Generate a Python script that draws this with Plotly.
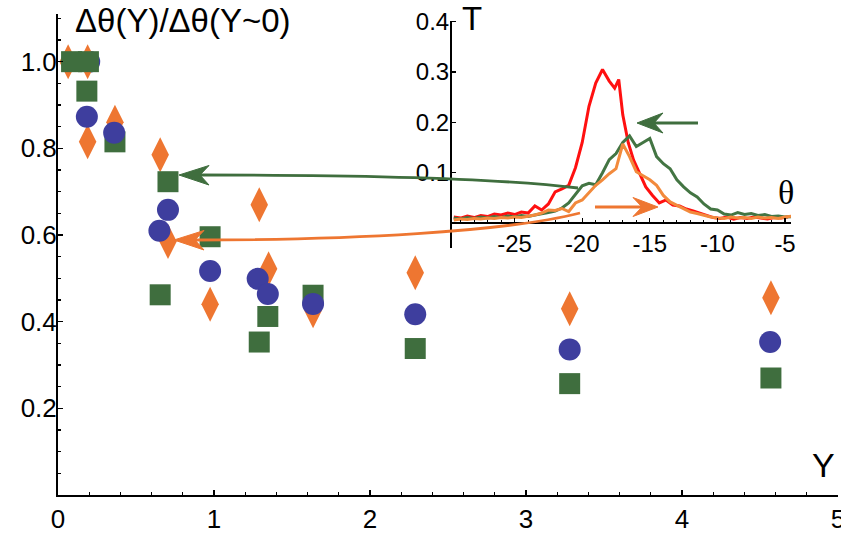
import plotly.graph_objects as go

# ---------------- main data ----------------
dia_x = [0.065, 0.19, 0.19, 0.365, 0.655, 0.705, 0.975, 1.29, 1.35, 1.635, 2.29, 3.28, 4.57]
dia_y = [1.0, 1.0, 0.815, 0.86, 0.785, 0.585, 0.44, 0.67, 0.522, 0.425, 0.513, 0.43, 0.455]

sq_x = [0.087, 0.195, 0.185, 0.365, 0.655, 0.705, 0.975, 1.29, 1.345, 1.635, 2.29, 3.28, 4.57]
sq_y = [1.0, 1.0, 0.932, 0.815, 0.462, 0.723, 0.596, 0.353, 0.412, 0.461, 0.338, 0.257, 0.27]

cir_x = [0.2, 0.185, 0.36, 0.705, 0.65, 0.975, 1.28, 1.345, 1.635, 2.29, 3.28, 4.565]
cir_y = [1.0, 0.873, 0.836, 0.658, 0.61, 0.517, 0.499, 0.464, 0.441, 0.417, 0.336, 0.353]

x_ticks = [0, 1, 2, 3, 4, 5]
y_ticks = [0.2, 0.4, 0.6, 0.8, 1.0]
y_ticklabels = ["0.2", "0.4", "0.6", "0.8", "1.0"]

# ---------------- inset data ----------------
red_theta = [-29.5, -29, -28.5, -28, -27.5, -27, -26.5, -26, -25.5, -25, -24.5, -24,
             -23.5, -23, -22.5, -22, -21.5, -21, -20.5, -20, -19.5, -19, -18.5, -18,
             -17.6, -17.3, -17.0, -16.6, -16.2, -15.8,
             -15.3, -14.8, -14.3, -13.8, -13.3, -12.8, -12.3, -11.8, -11.3, -10.8, -10.3,
             -9.8, -9.3, -8.8, -8.3, -7.8, -7.3, -6.8, -6.3, -5.8, -5.3, -4.8]
red_T = [0.012, 0.010, 0.014, 0.011, 0.015, 0.013, 0.018, 0.016, 0.020, 0.017, 0.022, 0.020,
         0.034, 0.026, 0.038, 0.062, 0.068, 0.075, 0.110, 0.160, 0.232, 0.278, 0.305, 0.282,
         0.268, 0.285, 0.215, 0.160, 0.125, 0.100,
         0.072, 0.055, 0.040, 0.046, 0.036, 0.034, 0.028, 0.024, 0.020, 0.015, 0.011,
         0.009, 0.012, 0.008, 0.011, 0.009, 0.012, 0.010, 0.008, 0.011, 0.010, 0.012]

gr_theta = [-29.5, -29, -28.5, -28, -27.5, -27, -26.5, -26, -25.5, -25, -24.5, -24,
            -23.5, -23, -22.5, -22, -21.5, -21, -20.5, -20, -19.5, -19, -18.5, -18,
            -17.5, -17, -16.5, -16, -15.5, -15, -14.5, -14, -13.5, -13, -12.5, -12,
            -11.5, -11, -10.5, -10, -9.5, -9, -8.5, -8, -7.5, -7, -6.5, -6, -5.5, -5, -4.5]
gr_T = [0.010, 0.008, 0.011, 0.009, 0.012, 0.010, 0.013, 0.011, 0.014, 0.012, 0.015, 0.013,
        0.016, 0.018, 0.021, 0.024, 0.030, 0.040, 0.058, 0.074, 0.079, 0.076, 0.100, 0.126,
        0.138, 0.160, 0.173, 0.152, 0.160, 0.168, 0.132, 0.118, 0.108, 0.086, 0.072, 0.060,
        0.052, 0.038, 0.028, 0.026, 0.018, 0.016, 0.021, 0.017, 0.019, 0.015, 0.017, 0.013,
        0.014, 0.012, 0.013]

or_theta = gr_theta
or_T = [0.006, 0.008, 0.007, 0.009, 0.008, 0.010, 0.009, 0.011, 0.010, 0.012, 0.011, 0.013,
        0.016, 0.020, 0.026, 0.025, 0.029, 0.023, 0.040, 0.046, 0.060, 0.075, 0.086, 0.098,
        0.108, 0.157, 0.132, 0.102, 0.094, 0.086, 0.075, 0.055, 0.042, 0.035, 0.028, 0.022,
        0.019, 0.015, 0.012, 0.010, 0.009, 0.012, 0.010, 0.011, 0.009, 0.012, 0.010, 0.011,
        0.009, 0.012, 0.014]

inset_xticks = [-25, -20, -15, -10, -5]
inset_yticks = [0.1, 0.2, 0.3, 0.4]

# ---------------- styling ----------------
ORANGE = "#EE7631"
BLUE = "#3E3E9E"
GREEN = "#3F6E3E"
RED = "#FF1010"
GREEN_L = "#437543"
ORANGE_L = "#F28A3C"
FONT = "Liberation Sans, Arial, sans-serif"

W, H = 841, 534
ML, MR, MT, MB = 58, 3, 14, 39
PW = W - ML - MR
PH = H - MT - MB


def px(x):
    return (x - ML) / PW


def py(y):
    return (H - MB - y) / PH


fig = go.Figure()

# main markers
fig.add_trace(go.Scatter(x=cir_x[:1], y=cir_y[:1], mode="markers", cliponaxis=False,
                         marker=dict(symbol="circle", size=22, color=BLUE), showlegend=False))
fig.add_trace(go.Scatter(x=dia_x, y=dia_y, mode="markers", cliponaxis=False,
                         marker=dict(symbol="diamond-tall", size=25, color=ORANGE), showlegend=False))
fig.add_trace(go.Scatter(x=sq_x, y=sq_y, mode="markers", cliponaxis=False,
                         marker=dict(symbol="square", size=21, color=GREEN), showlegend=False))
fig.add_trace(go.Scatter(x=cir_x[1:], y=cir_y[1:], mode="markers", cliponaxis=False,
                         marker=dict(symbol="circle", size=22, color=BLUE), showlegend=False))

# inset curves
fig.add_trace(go.Scatter(x=red_theta, y=red_T, mode="lines", xaxis="x2", yaxis="y2",
                         line=dict(color=RED, width=3), showlegend=False))
fig.add_trace(go.Scatter(x=gr_theta, y=gr_T, mode="lines", xaxis="x2", yaxis="y2",
                         line=dict(color=GREEN_L, width=3), showlegend=False))
fig.add_trace(go.Scatter(x=or_theta, y=or_T, mode="lines", xaxis="x2", yaxis="y2",
                         line=dict(color=ORANGE_L, width=3), showlegend=False))

# inset geometry (pixel positions)
ix0, ix1 = 452, 791
iy_top, iy_bot, iy_zero = 20.6, 248.3, 223

shapes = []


def path_pts(pts, close=False):
    s = "M " + " L ".join(f"{px(a):.5f},{py(b):.5f}" for a, b in pts)
    return s + (" Z" if close else "")


def curve(p0, c1, c2, p3):
    return (f"M {px(p0[0]):.5f},{py(p0[1]):.5f} C {px(c1[0]):.5f},{py(c1[1]):.5f} "
            f"{px(c2[0]):.5f},{py(c2[1]):.5f} {px(p3[0]):.5f},{py(p3[1]):.5f}")


# long green arrow
shapes.append(dict(type="path", xref="paper", yref="paper",
                   path=curve((578, 188), (505, 179), (380, 175), (199, 175)),
                   line=dict(color=GREEN, width=2.8)))
shapes.append(dict(type="path", xref="paper", yref="paper",
                   path=path_pts([(179, 175), (209, 165.5), (200, 175), (209, 185)], close=True),
                   fillcolor=GREEN, line=dict(color=GREEN, width=1)))
# long orange arrow
shapes.append(dict(type="path", xref="paper", yref="paper",
                   path=curve((580, 213), (505, 232), (350, 240), (194, 240)),
                   line=dict(color=ORANGE, width=2.8)))
shapes.append(dict(type="path", xref="paper", yref="paper",
                   path=path_pts([(174, 240), (204, 230.5), (195, 240), (204, 250)], close=True),
                   fillcolor=ORANGE, line=dict(color=ORANGE, width=1)))
# short inset arrows
shapes.append(dict(type="path", xref="paper", yref="paper",
                   path=path_pts([(698, 123), (653, 123)]),
                   line=dict(color=GREEN, width=3)))
shapes.append(dict(type="path", xref="paper", yref="paper",
                   path=path_pts([(637, 123), (663, 113), (654, 123), (663, 133)], close=True),
                   fillcolor=GREEN, line=dict(color=GREEN, width=1)))
shapes.append(dict(type="path", xref="paper", yref="paper",
                   path=path_pts([(595, 207), (642, 207)]),
                   line=dict(color=ORANGE, width=3)))
shapes.append(dict(type="path", xref="paper", yref="paper",
                   path=path_pts([(658, 207), (633, 197.5), (642, 207), (633, 216.5)], close=True),
                   fillcolor=ORANGE, line=dict(color=ORANGE, width=1)))

annotations = [
    dict(text="Δθ(Y)/Δθ(Y~0)", xref="paper", yref="paper", x=px(73), y=py(21),
         xanchor="left", yanchor="middle", showarrow=False,
         font=dict(family=FONT, size=33, color="black")),
    dict(text="Y", xref="paper", yref="paper", x=px(823), y=py(465),
         xanchor="center", yanchor="middle", showarrow=False,
         font=dict(family=FONT, size=34, color="black")),
    dict(text="T", xref="paper", yref="paper", x=px(472), y=py(18),
         xanchor="center", yanchor="middle", showarrow=False,
         font=dict(family=FONT, size=33, color="black")),
    dict(text="θ", xref="paper", yref="paper", x=px(786), y=py(192),
         xanchor="center", yanchor="middle", showarrow=False,
         font=dict(family="Liberation Serif, Times New Roman, serif", size=34, color="black")),
]

fig.update_layout(
    width=W, height=H, autosize=False,
    margin=dict(l=ML, r=MR, t=MT, b=MB, pad=0),
    plot_bgcolor="white", paper_bgcolor="white",
    font=dict(family=FONT, color="black"),
    showlegend=False,
    shapes=shapes,
    annotations=annotations,
    xaxis=dict(range=[0, 5], domain=[0, 1], showline=True, linecolor="black", linewidth=2,
               ticks="inside", ticklen=5, tickwidth=1.5, tickcolor="black",
               tickvals=x_ticks, ticktext=[str(v) for v in x_ticks],
               minor=dict(ticks="inside", dtick=0.2, ticklen=3, tickwidth=1.2, tickcolor="black"),
               showgrid=False, zeroline=False, tickfont=dict(family=FONT, size=26),
               ticklabelstandoff=0, automargin=False, ticklabeloverflow="allow"),
    yaxis=dict(range=[0, 1.11], domain=[0, 1], showline=True, linecolor="black", linewidth=2,
               ticks="inside", ticklen=5, tickwidth=1.5, tickcolor="black",
               tickvals=y_ticks, ticktext=y_ticklabels,
               minor=dict(ticks="inside", dtick=0.05, ticklen=3, tickwidth=1.2, tickcolor="black"),
               showgrid=False, zeroline=False, tickfont=dict(family=FONT, size=26),
               ticklabelstandoff=-6, automargin=False, ticklabeloverflow="allow"),
    xaxis2=dict(domain=[px(ix0), px(ix1)], range=[-29.63, -4.56], anchor="free",
                position=py(iy_zero), showline=True, linecolor="black", linewidth=2,
                ticks="inside", ticklen=4, tickwidth=1.2, tickcolor="black",
                tickvals=inset_xticks, ticktext=[str(v) for v in inset_xticks],
                minor=dict(ticks="inside", dtick=1, ticklen=2, tickwidth=1, tickcolor="black"),
                showgrid=False, zeroline=False, tickfont=dict(family=FONT, size=24),
                ticklabelstandoff=-1, automargin=False, ticklabeloverflow="allow"),
    yaxis2=dict(domain=[py(iy_bot), py(iy_top)], range=[-0.05, 0.402], anchor="x2",
                showline=True, linecolor="black", linewidth=2,
                ticks="inside", ticklen=4, tickwidth=1.2, tickcolor="black",
                tickvals=inset_yticks, ticktext=["0.1", "0.2", "0.3", "0.4"],
                showgrid=False, zeroline=False, tickfont=dict(family=FONT, size=24),
                ticklabelstandoff=-4, automargin=False, ticklabeloverflow="allow"),
)

fig.write_html("out.html", config={"displayModeBar": False, "staticPlot": True},
               post_script="document.body.style.margin='0';document.body.style.overflow='hidden';")
